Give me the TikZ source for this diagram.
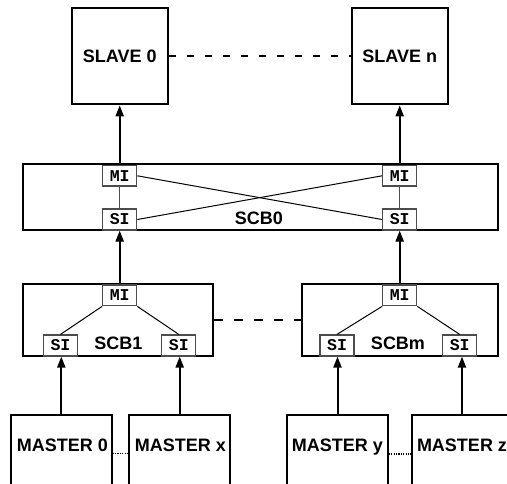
\documentclass[tikz,border=0pt]{standalone}
\usepackage{fontspec}
\setmainfont{Liberation Sans}
\newfontfamily\monofam{Liberation Mono}
\usetikzlibrary{arrows.meta}
\begin{document}
\begin{tikzpicture}[x=1pt,y=-1pt,
  big/.style={draw, line width=2pt, fill=white, inner sep=0pt, font=\fontsize{18}{20}\selectfont\bfseries},
  port/.style={draw=black!70, line width=1.2pt, fill=white, minimum width=34pt, minimum height=21pt, inner sep=0pt, font=\fontsize{16.5}{17}\monofam\bfseries},
  lbl/.style={font=\fontsize{18}{20}\selectfont\bfseries, inner sep=0pt, anchor=base},
  arr/.style={line width=2pt, -{Triangle[length=11pt,width=8pt]}},
  thinl/.style={line width=1pt},
  dashl/.style={line width=2pt, dash pattern=on 7pt off 11pt},
  dashm/.style={line width=2pt, dash pattern=on 9pt off 11pt},
  dotl/.style={line width=1.2pt, dash pattern=on 1.2pt off 1.2pt}]
\useasboundingbox (0,0) rectangle (507,483);
\clip (0,0) rectangle (507,483);

% slaves
\node[big, minimum width=96pt, minimum height=96pt] (s0) at (119.7,56.3) {SLAVE 0};
\node[big, minimum width=96pt, minimum height=96pt] (sn) at (399.7,56.3) {SLAVE n};
\draw[dashl] (s0.east) -- (sn.west);

% SCB0
\node[big, minimum width=475pt, minimum height=65.7pt] (scb0) at (260.8,197.2) {};
\node[lbl] (scb0l) at (259,224) {SCB0};
\node[port, minimum height=20.5pt] (mi0) at (119.7,175.8) {MI};
\node[port] (si0) at (119.7,219.5) {SI};
\node[port, minimum height=20.5pt] (min) at (399.7,175.8) {MI};
\node[port] (sin) at (399.7,219.5) {SI};
\draw[draw=black!70, line width=1pt] (mi0.south) -- (si0.north);
\draw[draw=black!70, line width=1pt] (min.south) -- (sin.north);
\draw[thinl] (mi0.east) -- (sin.west);
\draw[thinl] (si0.east) -- (min.west);

\draw[arr] (mi0.north) -- (s0.south);
\draw[arr] (min.north) -- (sn.south);

% SCB1
\node[big, minimum width=190.6pt, minimum height=71.7pt] (scb1) at (118,320.2) {};
\node[lbl] (scb1l) at (118.3,349.3) {SCB1};
\node[port, minimum height=20.7pt] (mi1) at (119.7,295.4) {MI};
\node[port] (si1a) at (60.5,345.5) {SI};
\node[port] (si1b) at (178.8,345.5) {SI};
\draw[thinl] (mi1.south west) -- (si1a.north);
\draw[thinl] (mi1.south east) -- (si1b.north);

% SCBm
\node[big, minimum width=196.6pt, minimum height=71.7pt] (scbm) at (400,320.2) {};
\node[lbl] (scbml) at (398,349.3) {SCBm};
\node[port, minimum height=20.7pt] (mim) at (399.7,295.4) {MI};
\node[port] (sima) at (337,345.5) {SI};
\node[port] (simb) at (459.7,345.5) {SI};
\draw[thinl] (mim.south west) -- (sima.north);
\draw[thinl] (mim.south east) -- (simb.north);

\draw[dashm] (scb1.east) -- (scbm.west);

\draw[arr] (mi1.north) -- (si0.south);
\draw[arr] (mim.north) -- (sin.south);

% masters
\node[big, minimum width=100.7pt, minimum height=85pt] (m0) at (61.3,457.5) {};
\node[big, minimum width=100.7pt, minimum height=85pt] (mx) at (179.7,457.5) {};
\node[big, minimum width=100.4pt, minimum height=85pt] (my) at (337.5,457.5) {};
\node[big, minimum width=100.6pt, minimum height=85pt] (mz) at (462,457.5) {};
\node[lbl] (m0t) at (62.5,451.5) {MASTER 0};
\node[lbl] (mxt) at (180.5,451.5) {MASTER x};
\node[lbl] (myt) at (337.5,451.5) {MASTER y};
\node[lbl] (mzt) at (462,451.5) {MASTER z};

\draw[dotl] ([yshift=-2.2pt]m0t.base -| m0.east) -- ([yshift=-2.2pt]m0t.base -| mx.west);
\draw[dotl] ([yshift=-2.5pt]myt.base -| my.east) -- ([yshift=-2.5pt]myt.base -| mz.west);

\draw[arr] (m0.north) -- (m0.north |- si1a.south);
\draw[arr] (mx.north) -- (mx.north |- si1b.south);
\draw[arr] (my.north) -- (my.north |- sima.south);
\draw[arr] (mz.north) -- (mz.north |- simb.south);
\end{tikzpicture}
\end{document}
